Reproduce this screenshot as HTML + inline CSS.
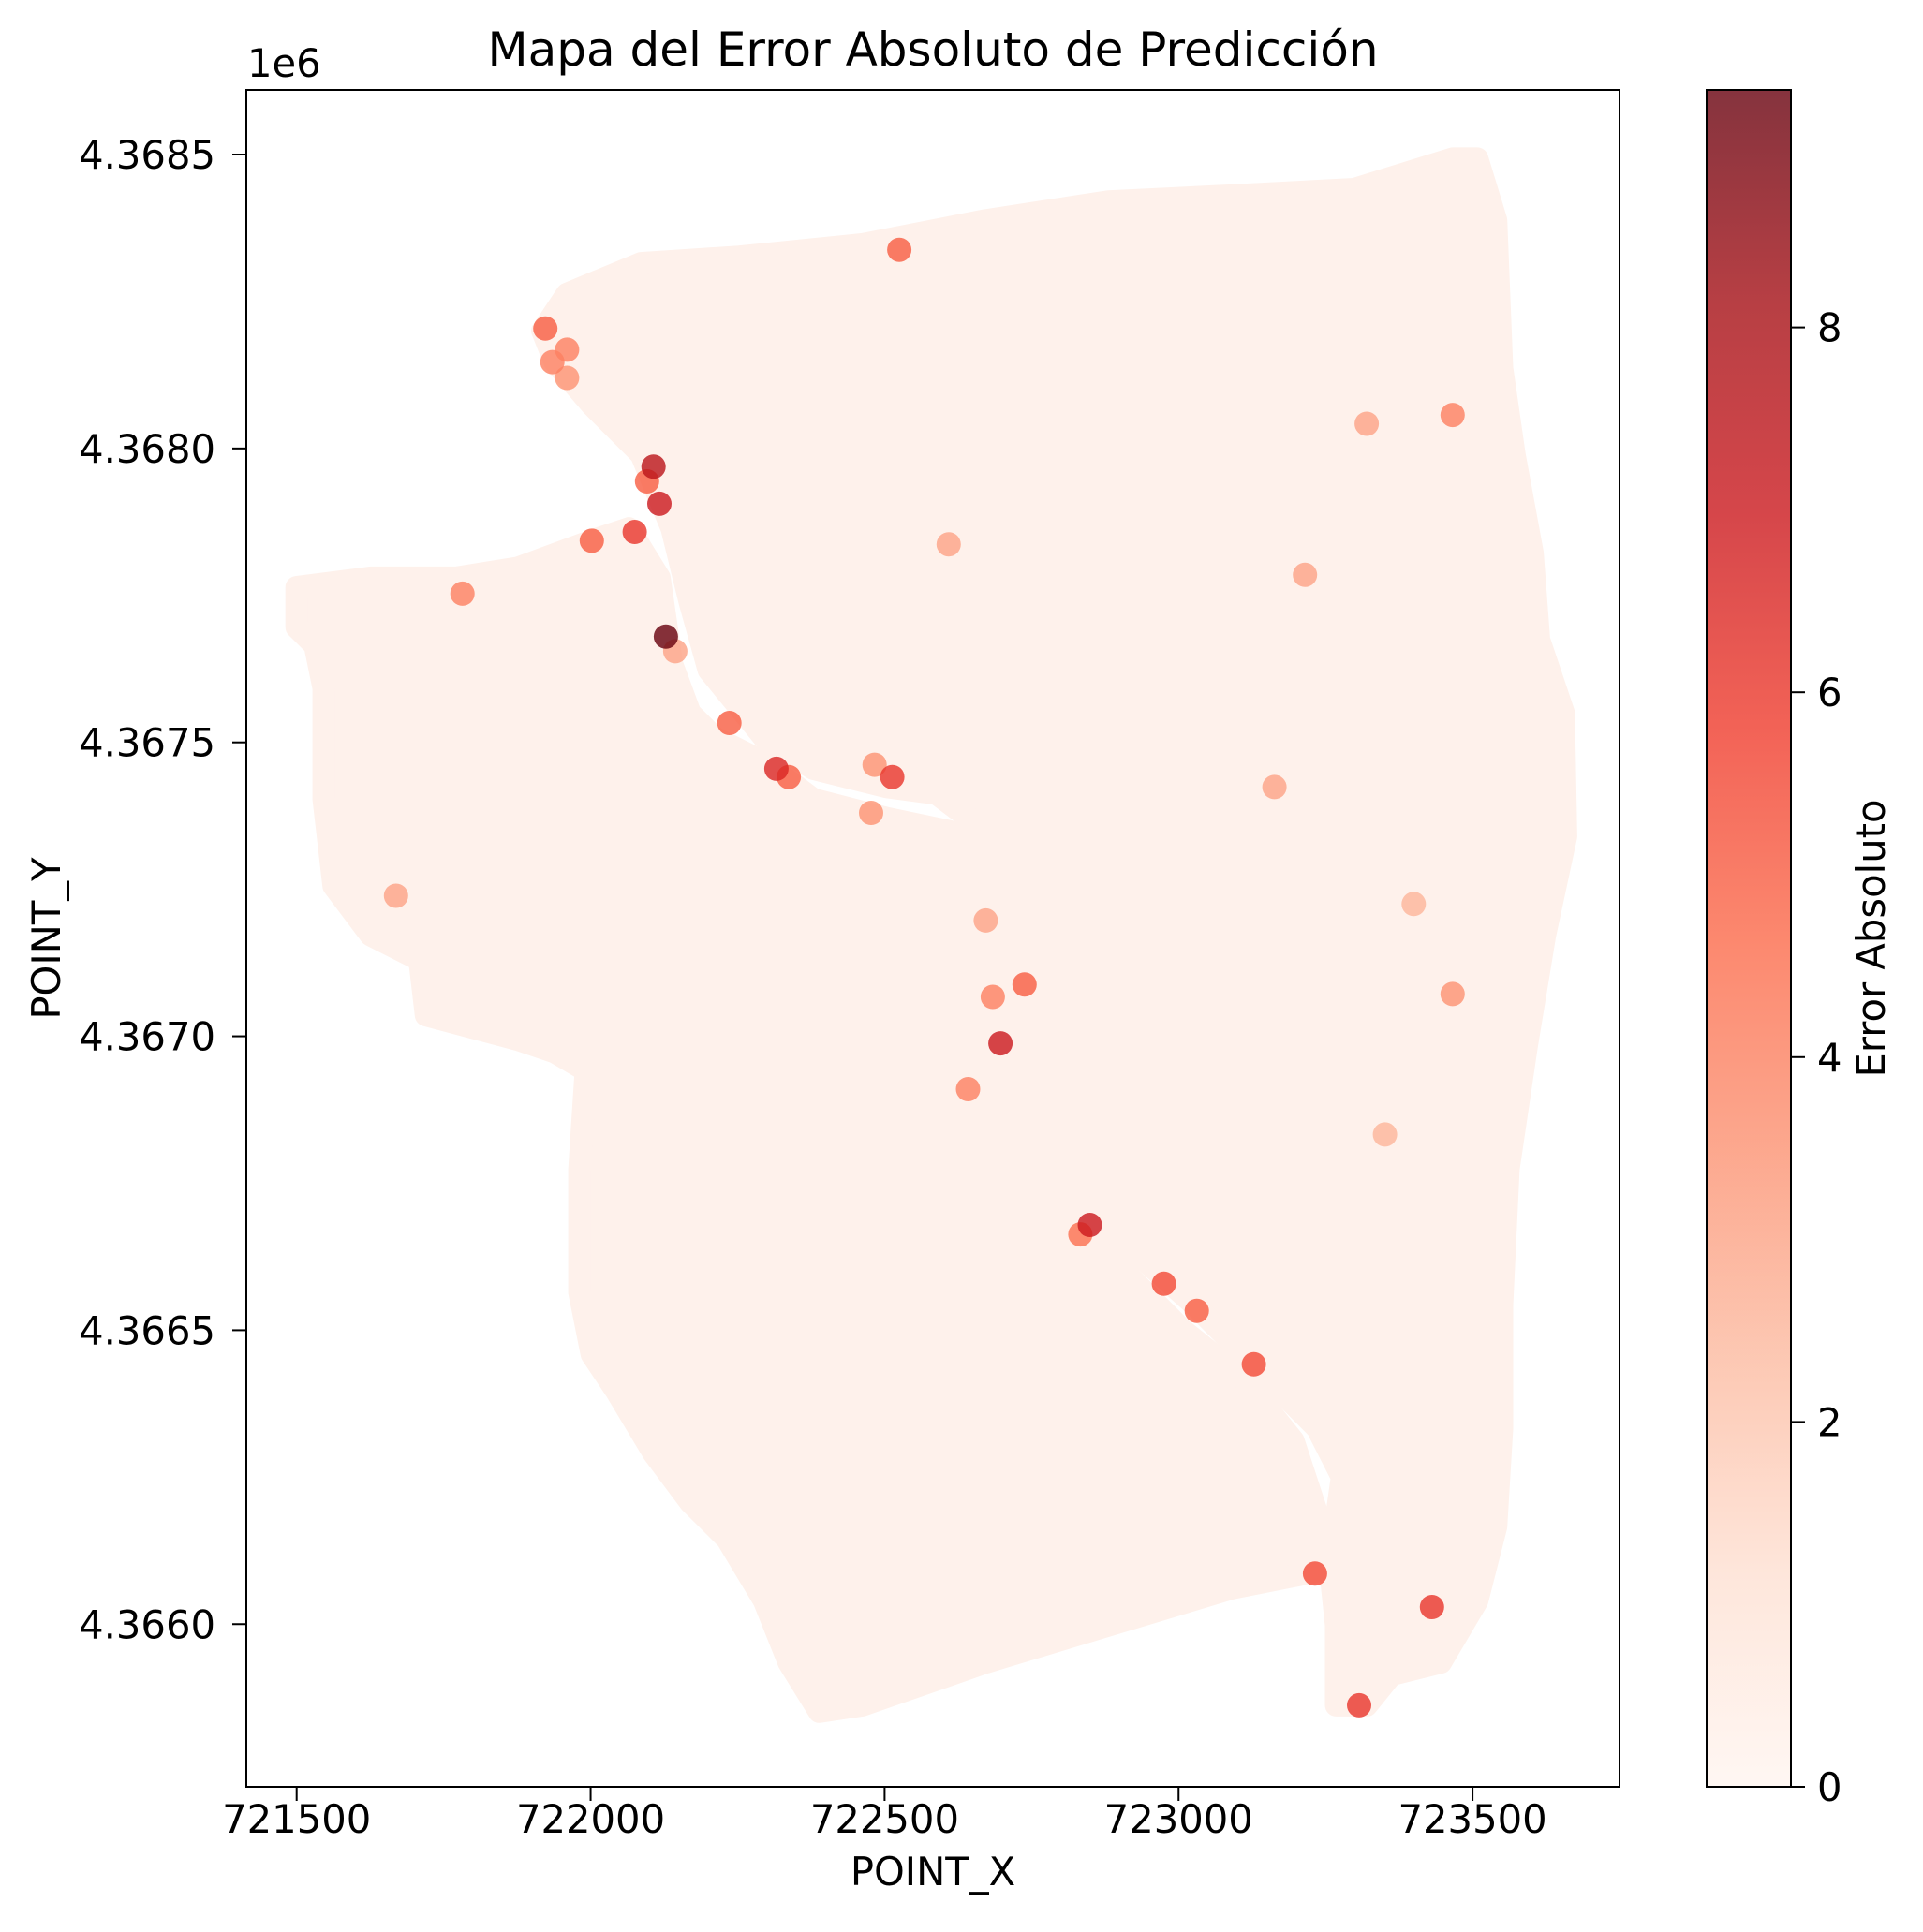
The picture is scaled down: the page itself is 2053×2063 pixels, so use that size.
<!DOCTYPE html>
<html><head><meta charset="utf-8"><style>
body{margin:0;background:#fff;}
svg{display:block;font-family:"DejaVu Sans","Liberation Sans",sans-serif;}
</style></head><body>
<svg id="chart" width="2053" height="2063" viewBox="0 0 2053 2063" xmlns="http://www.w3.org/2000/svg">
<defs>
<linearGradient id="cmap" x1="0" y1="1" x2="0" y2="0">
<stop offset="0" stop-color="#fff5f0"/><stop offset="0.125" stop-color="#fee0d2"/><stop offset="0.25" stop-color="#fcbba1"/><stop offset="0.375" stop-color="#fc9272"/><stop offset="0.5" stop-color="#fb6a4a"/><stop offset="0.625" stop-color="#ef3b2c"/><stop offset="0.75" stop-color="#cb181d"/><stop offset="0.875" stop-color="#a50f15"/><stop offset="1" stop-color="#67000d"/>
</linearGradient>
<clipPath id="plotclip"><rect x="263" y="96" width="1466" height="1812"/></clipPath>
</defs>
<text x="996" y="70" font-size="50" text-anchor="middle">Mapa del Error Absoluto de Predicción</text>
<g id="regions" clip-path="url(#plotclip)"></g>
<g id="points" clip-path="url(#plotclip)"></g>
<rect x="263" y="96" width="1466" height="1812" fill="none" stroke="#000" stroke-width="2"/>
<g id="xaxis"></g>
<g id="yaxis"></g>
<text x="264" y="82" font-size="41.7">1e6</text>
<text x="996" y="2013" font-size="41.7" text-anchor="middle">POINT_X</text>
<text transform="translate(64,1002) rotate(-90)" font-size="41.7" text-anchor="middle">POINT_Y</text>
<rect x="1822" y="96" width="90" height="1812" fill="url(#cmap)" opacity="0.8"/>
<rect x="1822" y="96" width="90" height="1812" fill="none" stroke="#000" stroke-width="2"/>
<g id="cbaxis"></g>
<text transform="translate(2012,1002) rotate(-90)" font-size="41.7" text-anchor="middle">Error Absoluto</text>
</svg>
<script>
// --- data ---
const xTicks = [721500, 722000, 722500, 723000, 723500];
const yTicks = [4366000, 4366500, 4367000, 4367500, 4368000, 4368500];
const yTickLabels = ["4.3660", "4.3665", "4.3670", "4.3675", "4.3680", "4.3685"];
const cbTicks = [0, 2, 4, 6, 8];
const cbMax = 9.3;
const westX = [721500,721626,721772,721877,722002,722065,722117,722138,722169,722211,722295,722379,722504,722651,722682,722692,722672,722692,722776,722902,723006,723111,723195,723236,723247,723090,722881,722672,722462,722389,722337,722295,722232,722169,722107,722044,722002,721981,721981,721992,721939,721877,721720,721709,721626,721563,721546,721546,721531,721500];
const westY = [4367764,4367780,4367780,4367797,4367843,4367864,4367780,4367634,4367550,4367508,4367466,4367403,4367371,4367340,4367256,4367109,4366983,4366837,4366753,4366606,4366501,4366417,4366312,4366187,4366092,4366061,4365998,4365935,4365862,4365851,4365935,4366040,4366145,4366208,4366291,4366396,4366459,4366564,4366774,4366942,4366973,4366994,4367036,4367130,4367172,4367256,4367403,4367592,4367665,4367696];
const eastX = [721918,721960,722086,722253,722462,722672,722881,723090,723299,723466,723508,723540,723550,723571,723602,723613,723655,723659,723623,723592,723561,723550,723550,723540,723508,723446,723362,723320,723268,723268,723257,723278,723236,723132,723027,722933,722828,722713,722703,722724,722713,722672,722588,722504,722379,722295,722201,722169,722138,722086,722002,721939];
const eastY = [4368200,4368263,4368315,4368326,4368347,4368388,4368420,4368430,4368441,4368493,4368493,4368388,4368137,4367990,4367822,4367675,4367550,4367340,4367172,4366983,4366774,4366543,4366333,4366166,4366040,4365935,4365914,4365862,4365862,4365998,4366103,4366250,4366333,4366438,4366543,4366627,4366721,4366837,4366963,4367109,4367256,4367350,4367413,4367424,4367455,4367508,4367623,4367738,4367864,4367990,4368074,4368147];
const ptX = [721923,721960,721935,721960,722107,722117,722075,722096,722128,722144,721782,722236,722316,722337,722477,722609,723215,723466,723466,722697,722642,722684,722738,722672,722849,722833,723031,722975,723128,723232,723431,723307,722525,722513,722483,722002,721669,723400,723351,723320,723163];
const ptY = [4368204,4368168,4368147,4368120,4367969,4367906,4367858,4367944,4367680,4367655,4367753,4367533,4367455,4367441,4367380,4367837,4367785,4368057,4367072,4366988,4366910,4367067,4367088,4367197,4366679,4366663,4366533,4366579,4366442,4366086,4366029,4365862,4368338,4367441,4367462,4367843,4367239,4367225,4366833,4368042,4367424];
const ptV = [5,4,4,3.5,7.5,7,6,5,9.3,3,4,5,6.5,5,3.5,3,3,4,3.5,7,4,4,5,3,7,4.5,5,5.5,5.5,5.5,6,6,5,6,3.5,5,3,2.5,2.5,3,3];
// --- scales ---
const X = v => 316.7 + (v - 721500) * 0.6277;
const Y = v => 165 + (4368500 - v) * 0.6277;
const CB = v => 1908 - v * 194.8;
const stops = [[255,245,240],[254,224,210],[252,187,161],[252,146,114],[251,106,74],[239,59,44],[203,24,29],[165,15,21],[103,0,13]];
function cmap(v){let t=Math.max(0,Math.min(1,v/cbMax))*8;let i=Math.min(7,Math.floor(t));let f=t-i;const a=stops[i],b=stops[i+1];return 'rgb('+a.map((c,k)=>Math.round(c+(b[k]-c)*f)).join(',')+')';}
const NS='http://www.w3.org/2000/svg';
function mk(tag,attrs,parent){const e=document.createElementNS(NS,tag);for(const k in attrs)e.setAttribute(k,attrs[k]);parent.appendChild(e);return e;}
const regions=document.getElementById('regions');
[[westX,westY,'west-region'],[eastX,eastY,'east-region']].forEach(r=>{
  const pts=r[0].map((x,i)=>X(x).toFixed(1)+','+Y(r[1][i]).toFixed(1)).join(' ');
  const p=mk('polygon',{points:pts,fill:'#fef1eb',stroke:'#fef1eb','stroke-width':24,'stroke-linejoin':'round'},regions);
  
  
});
const layer=document.getElementById('points');
const order=ptV.map((v,i)=>i).sort((a,b)=>ptV[a]-ptV[b]);
order.forEach(i=>{
  const c=mk('circle',{cx:X(ptX[i]).toFixed(1),cy:Y(ptY[i]).toFixed(1),r:13,fill:cmap(ptV[i]),'fill-opacity':0.8},layer);
  
  
});
const xa=document.getElementById('xaxis');
xTicks.forEach(t=>{
  const l=mk('line',{x1:X(t),x2:X(t),y1:1908,y2:1923,stroke:'#000','stroke-width':2},xa);
  
  
  const tx=mk('text',{x:X(t),y:1957,'font-size':41.7,'text-anchor':'middle'},xa);
  tx.textContent=t;
  
  
});
const ya=document.getElementById('yaxis');
yTicks.forEach((t,i)=>{
  const l=mk('line',{x1:248,x2:263,y1:Y(t),y2:Y(t),stroke:'#000','stroke-width':2},ya);
  
  
  const tx=mk('text',{x:230,y:Y(t)+15,'font-size':41.7,'text-anchor':'end'},ya);
  tx.textContent=yTickLabels[i];
  
  
});
const ca=document.getElementById('cbaxis');
cbTicks.forEach(t=>{
  const l=mk('line',{x1:1912,x2:1927,y1:CB(t),y2:CB(t),stroke:'#000','stroke-width':2},ca);
  
  
  const tx=mk('text',{x:1940,y:CB(t)+15,'font-size':41.7},ca);
  tx.textContent=t;
  
  
});
</script>
</body></html>
